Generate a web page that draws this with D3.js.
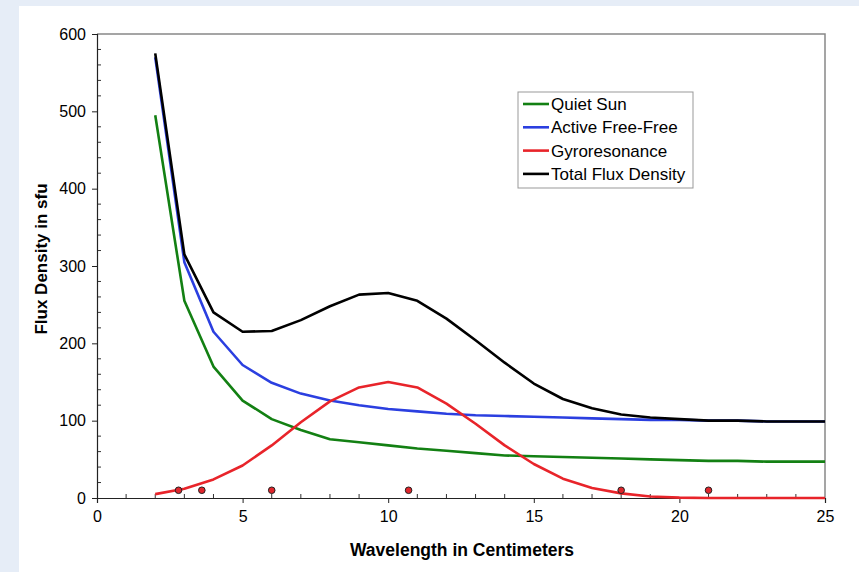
<!DOCTYPE html>
<html lang="en">
<head>
  <meta charset="UTF-8">
  <title>Flux Density vs Wavelength</title>
  <script src="https://d3js.org/d3.v7.min.js"></script>
  <style>
    body {
      margin: 0;
      background: #e6edf7;
      font-family: "Liberation Sans", Arial, sans-serif;
    }
  </style>
</head>
<body>
  <div id="chart"></div>

  <script>
    // wavelength in cm (2..25)
    const wavelengths = d3.range(2, 26);

    const quietSun = [495, 255, 170, 126, 102, 88, 76, 72, 68, 64, 61, 58, 55, 54,
                      53, 52, 51, 50, 49, 48, 48, 47, 47, 47];
    const activeFreeFree = [570, 305, 215, 172, 149, 135, 126, 120, 115, 112, 109, 107,
                            106, 105, 104, 103, 102, 101, 101, 100, 100, 99, 99, 99];
    const gyroresonance = [5, 12, 24, 42, 68, 98, 125, 143, 150, 143, 122, 96, 68, 44,
                           25, 13, 6, 2, 0.5, 0, 0, 0, 0, 0];
    const totalFlux = [575, 315, 240, 215, 216, 230, 248, 263, 265, 255, 232, 204, 175,
                       148, 128, 116, 108, 104, 102, 100, 100, 99, 99, 99];

    // observed points
    const obsWavelength = [2.8, 3.6, 6.0, 10.7, 18.0, 21.0];
    const obsFlux = [10, 10, 10, 10, 10, 10];

    const seriesNames = ["Quiet Sun", "Active Free-Free", "Gyroresonance", "Total Flux Density"];
    const seriesColors = ["#138013", "#2b3fe0", "#e8242a", "#000000"];
    const seriesData = [quietSun, activeFreeFree, gyroresonance, totalFlux];

    const W = 859, H = 572;
    const margin = {left: 97, top: 34, right: 34, bottom: 74};
    const FONT = "Liberation Sans, Arial, sans-serif";

    const svg = d3.select("#chart").append("svg")
      .attr("width", W)
      .attr("height", H);

    // white panel
    svg.append("rect")
      .attr("x", 19).attr("y", 6)
      .attr("width", W - 19).attr("height", H - 6)
      .attr("fill", "#fff");

    const x = d3.scaleLinear().domain([0, 25]).range([margin.left, W - margin.right]);
    const y = d3.scaleLinear().domain([0, 600]).range([H - margin.bottom, margin.top]);

    // frame top/right
    svg.append("path")
      .attr("d", `M${x(0)},${y(600)}H${x(25)}V${y(0)}`)
      .attr("fill", "none")
      .attr("stroke", "#888")
      .attr("stroke-width", 1.5);

    // minor ticks (inside)
    const g = svg.append("g");
    g.selectAll("line.ymin")
      .data(d3.range(20, 600, 20).filter(v => v % 100 !== 0))
      .enter().append("line")
      .attr("x1", x(0)).attr("x2", x(0) + 4)
      .attr("y1", d => y(d)).attr("y2", d => y(d))
      .attr("stroke", "#333");
    g.selectAll("line.xmin")
      .data(d3.range(1, 25).filter(v => v % 5 !== 0))
      .enter().append("line")
      .attr("x1", d => x(d)).attr("x2", d => x(d))
      .attr("y1", y(0)).attr("y2", y(0) - 4)
      .attr("stroke", "#333");

    const xAxis = svg.append("g")
      .attr("transform", `translate(0,${y(0)})`)
      .call(d3.axisBottom(x).tickValues(d3.range(0, 26, 5)).tickSize(5).tickPadding(8));
    const yAxis = svg.append("g")
      .attr("transform", `translate(${x(0)},0)`)
      .call(d3.axisLeft(y).tickValues(d3.range(0, 601, 100)).tickSize(5).tickPadding(6));
    [xAxis, yAxis].forEach(a => {
      a.select(".domain").attr("stroke", "#222").attr("stroke-width", 1.2);
      a.selectAll(".tick line").attr("stroke", "#222");
      a.selectAll(".tick text")
        .attr("fill", "#000")
        .style("font-family", FONT)
        .style("font-size", "16px");
    });

    svg.append("text")
      .attr("x", (x(0) + x(25)) / 2 + 1)
      .attr("y", 556)
      .attr("text-anchor", "middle")
      .style("font-family", FONT)
      .style("font-size", "17.5px")
      .attr("font-weight", "bold")
      .text("Wavelength in Centimeters");

    svg.append("text")
      .attr("transform", "translate(47,259) rotate(-90)")
      .attr("text-anchor", "middle")
      .style("font-family", FONT)
      .style("font-size", "17px")
      .attr("font-weight", "bold")
      .text("Flux Density in sfu");

    const line = d3.line()
      .x((d, i) => x(wavelengths[i]))
      .y(d => y(d));

    svg.selectAll("path.series")
      .data(seriesData)
      .enter().append("path")
      .attr("class", "series")
      .attr("d", d => line(d))
      .attr("fill", "none")
      .attr("stroke", (d, i) => seriesColors[i])
      .attr("stroke-width", 2.6)
      .attr("stroke-linejoin", "round");

    svg.selectAll("circle.obs")
      .data(obsWavelength)
      .enter().append("circle")
      .attr("class", "obs")
      .attr("cx", d => x(d))
      .attr("cy", (d, i) => y(obsFlux[i]))
      .attr("r", 3.3)
      .attr("fill", "#e0262c")
      .attr("stroke", "#222")
      .attr("stroke-width", 1);

    // legend
    const legend = svg.append("g")
      .attr("transform", "translate(518,92)");
    legend.append("rect")
      .attr("width", 175).attr("height", 96)
      .attr("fill", "#fff")
      .attr("stroke", "#999");
    const item = legend.selectAll("g.item")
      .data(seriesNames)
      .enter().append("g")
      .attr("class", "item")
      .attr("transform", (d, i) => `translate(0,${12 + i * 23.3})`);
    item.append("line")
      .attr("x1", 5).attr("x2", 31)
      .attr("stroke", (d, i) => seriesColors[i])
      .attr("stroke-width", 2.6);
    item.append("text")
      .attr("x", 33).attr("dy", 6)
      .style("font-family", FONT)
      .style("font-size", "17px")
      .attr("fill", "#000")
      .text(d => d);
  </script>
</body>
</html>
